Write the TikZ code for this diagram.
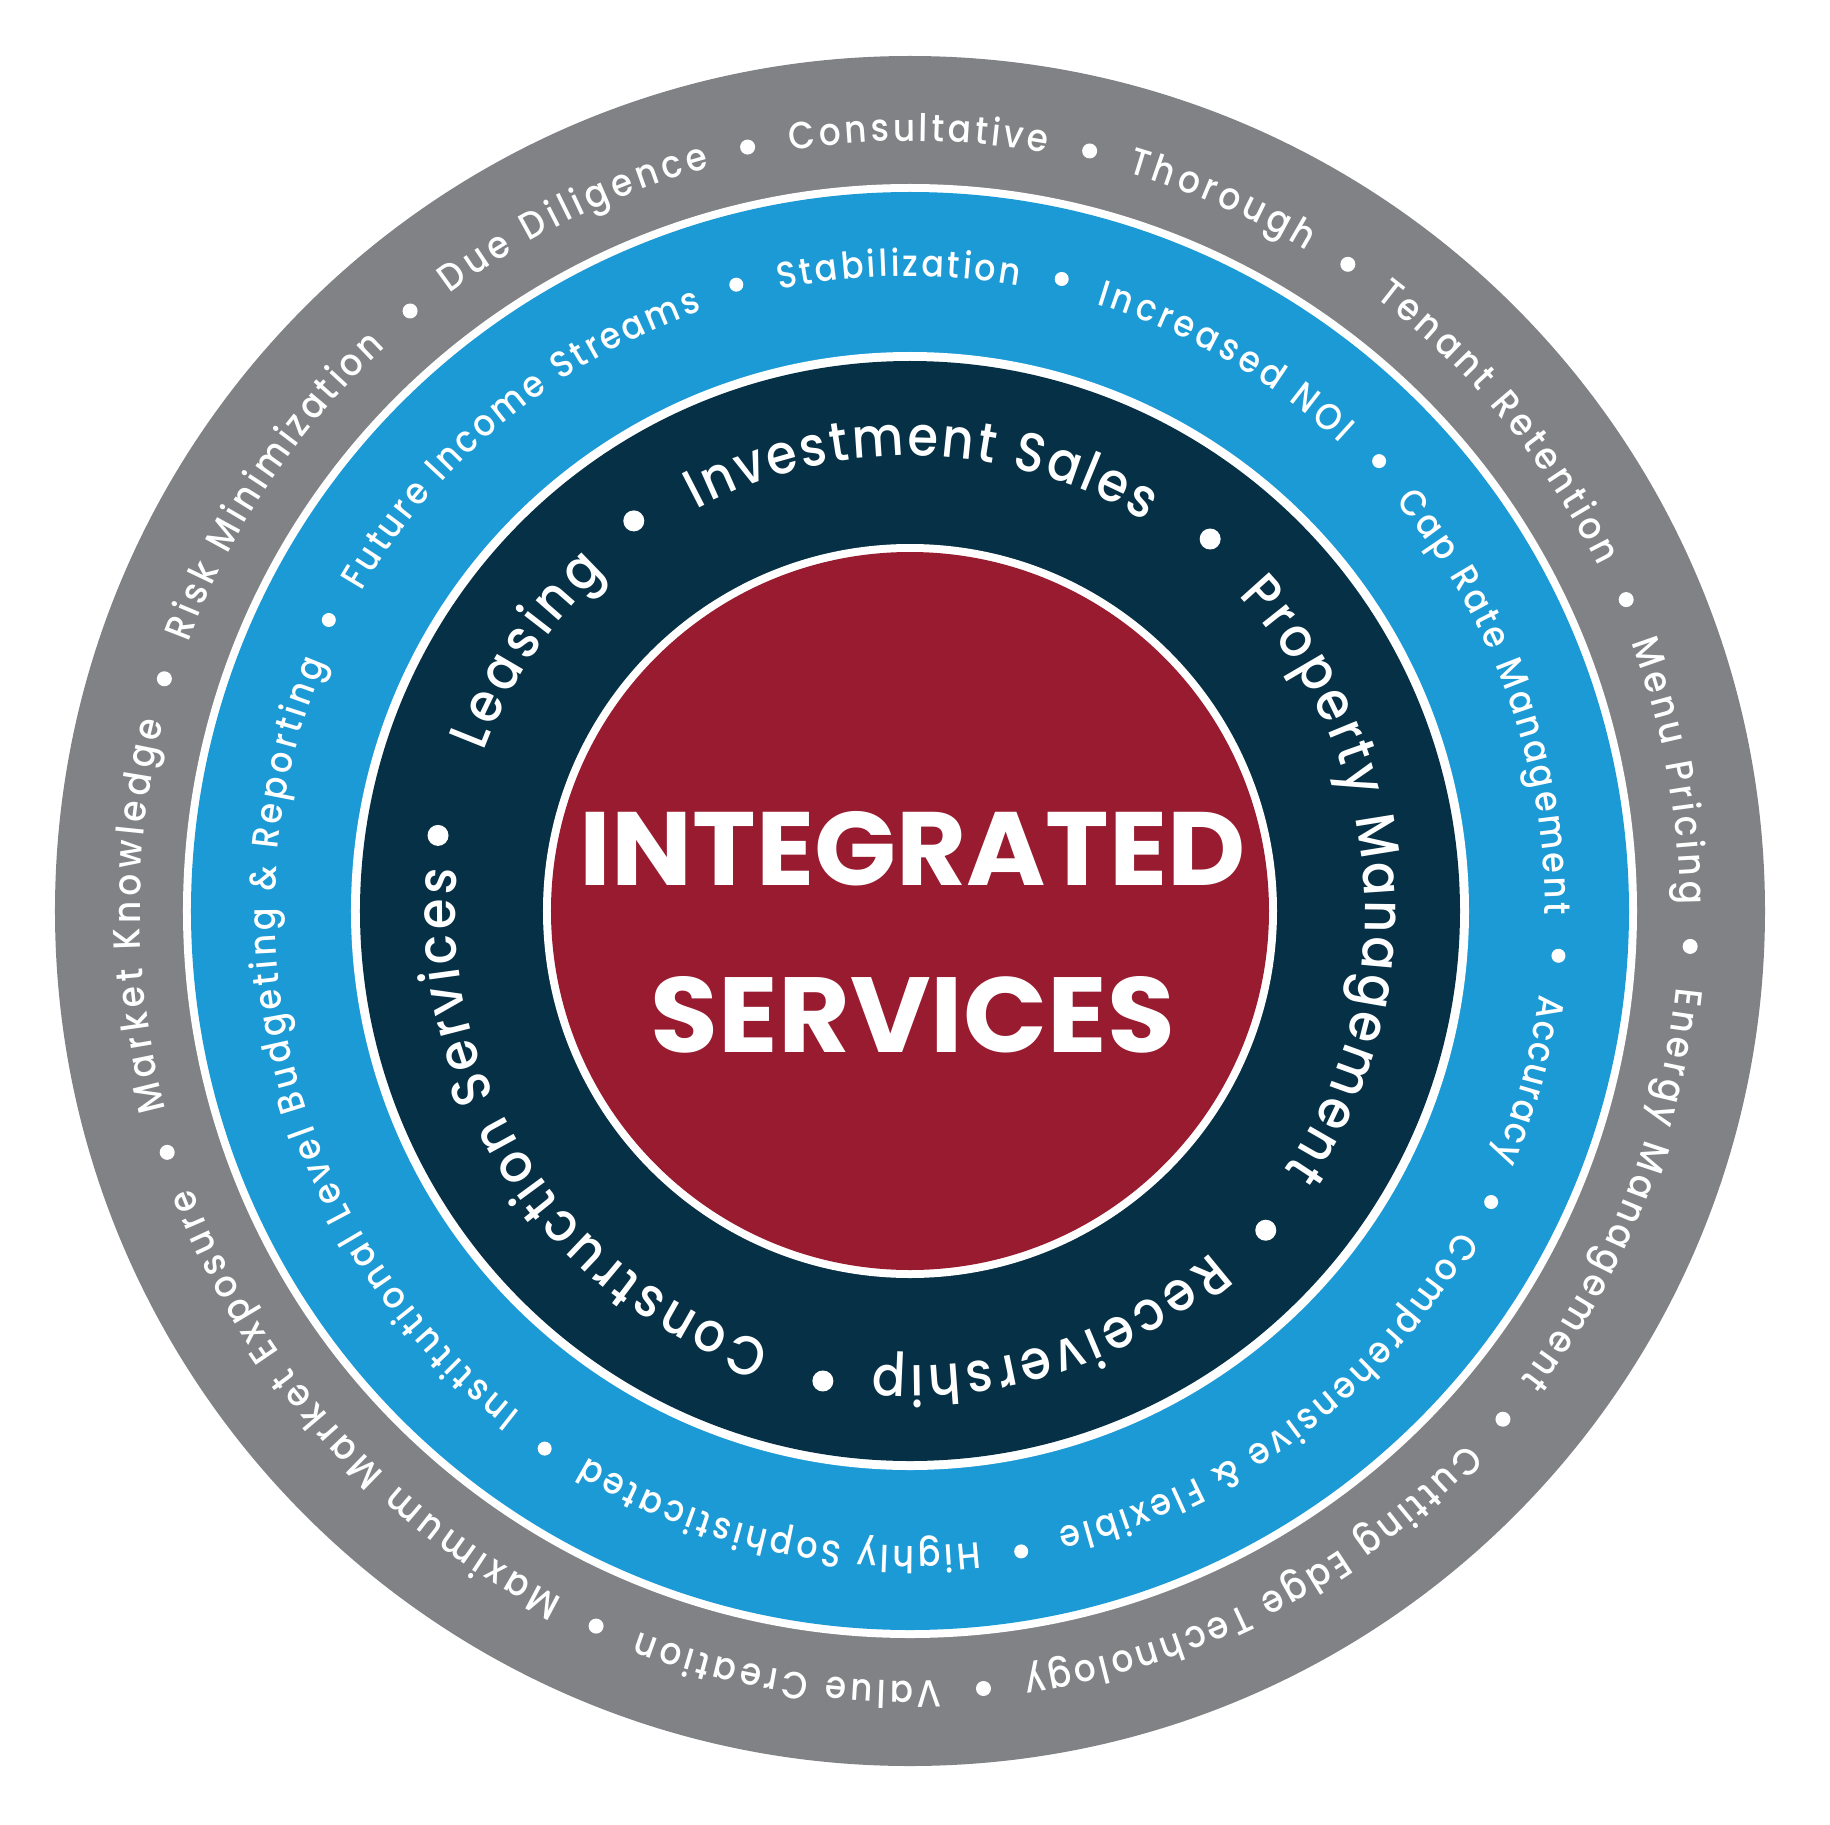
\documentclass[tikz,border=0pt]{standalone}
\usepackage{fontspec}
\setmainfont{Poppins}
\newfontfamily\ringfamily{Poppins}[UprightFont=* Medium, FakeStretch=0.9]
\usetikzlibrary{decorations.text}
\definecolor{ringgray}{RGB}{128,130,133}
\definecolor{ringblue}{RGB}{27,154,214}
\definecolor{ringnavy}{RGB}{6,48,69}
\definecolor{corered}{RGB}{152,27,48}
\newcommand\grayfont{\ringfamily\fontsize{38}{44}\selectfont\color{white}}
\newcommand\bluefont{\ringfamily\fontsize{37}{44}\selectfont\color{white}}
\newcommand\navyfont{\ringfamily\fontsize{55}{62}\selectfont\color{white}}
% radius, start angle, end angle, format, text
\newcommand\ringtext[5]{%
  \path[decorate, decoration={text along path, text={|#4|#5}, text align=fit to path}]
    (#2:#1) arc[start angle=#2, end angle=#3, radius=#1];}
\tikzset{dotmark/.style={fill=white, draw=none}}
\begin{document}
\begin{tikzpicture}[x=1pt,y=1pt]
\useasboundingbox (-910,-913) rectangle (920,911);
% discs
\fill[ringgray] (0,0) circle[radius=855];
\fill[white] (0,0) circle[radius=727];
\fill[ringblue] (0,0) circle[radius=719];
\fill[white] (0,0) circle[radius=559];
\fill[ringnavy] (0,0) circle[radius=550];
\fill[white] (0,0) circle[radius=367];
\fill[corered] (0,0) circle[radius=359];
% center text
\node[inner sep=0pt, text=white] (t1) at (3,62) {\resizebox{666pt}{74pt}{\bfseries INTEGRATED}};
\node[inner sep=0pt, text=white] (t2) at (3,-104) {\resizebox{524pt}{76pt}{\bfseries SERVICES}};
% gray ring
\ringtext{770}{98.9}{79.8}{\grayfont}{Consultative}
\ringtext{770}{73.6}{59.0}{\grayfont}{Thorough}
\ringtext{770}{52.8}{26.6}{\grayfont}{Tenant Retention}
\ringtext{770}{20.4}{0.5}{\grayfont}{Menu Pricing}
\ringtext{770}{-5.7}{-37.5}{\grayfont}{Energy Management}
\ringtext{770}{-43.7}{-81.5}{\grayfont}{Cutting Edge Technology}
\ringtext{770}{-87.7}{-110.6}{\grayfont}{Value Creation}
\ringtext{770}{-116.8}{-158.9}{\grayfont}{Maximum Market Exposure}
\ringtext{770}{-165.1}{-194.2}{\grayfont}{Market Knowledge}
\ringtext{770}{159.6}{132.9}{\grayfont}{Risk Minimization}
\ringtext{770}{126.7}{105.1}{\grayfont}{Due Diligence}
\foreach \a in {102.0,76.7,55.9,23.5,-2.6,-40.6,-84.6,-113.7,-162.0,162.7,129.8}
  \fill[dotmark] (\a:781) circle[radius=7.5];
% blue ring
\ringtext{635}{101.9}{80.1}{\bluefont}{Stabilization}
\ringtext{635}{72.9}{47.4}{\bluefont}{Increased NOI}
\ringtext{635}{40.2}{-0.3}{\bluefont}{Cap Rate Management}
\ringtext{635}{-7.55}{-23.0}{\bluefont}{Accuracy}
\ringtext{635}{-30.2}{-76.55}{\bluefont}{Comprehensive {\&} Flexible}
\ringtext{635}{-83.75}{-120.6}{\bluefont}{Highly Sophisticated}
\ringtext{635}{232.2}{157.0}{\bluefont}{Institutional Level Budgeting {\&} Reporting}
\ringtext{635}{149.8}{109.1}{\bluefont}{Future Income Streams}
\foreach \a in {105.5,76.5,43.8,-3.95,-26.6,-80.15,-124.2,153.4}
  \fill[dotmark] (\a:650) circle[radius=7];
% navy ring
\ringtext{455}{118}{58.9}{\navyfont}{Investment Sales}
\ringtext{455}{43.8}{-34.6}{\navyfont}{Property Management}
\ringtext{455}{-48.6}{-94.7}{\navyfont}{Receivership}
\ringtext{455}{-107.9}{-185.2}{\navyfont}{Construction Services}
\ringtext{455}{159.5}{132}{\navyfont}{Leasing}
\foreach \a in {125.3,51.1,-41.9,-100.5,170.9}
  \fill[dotmark] (\a:478) circle[radius=10.5];
\end{tikzpicture}
\end{document}
